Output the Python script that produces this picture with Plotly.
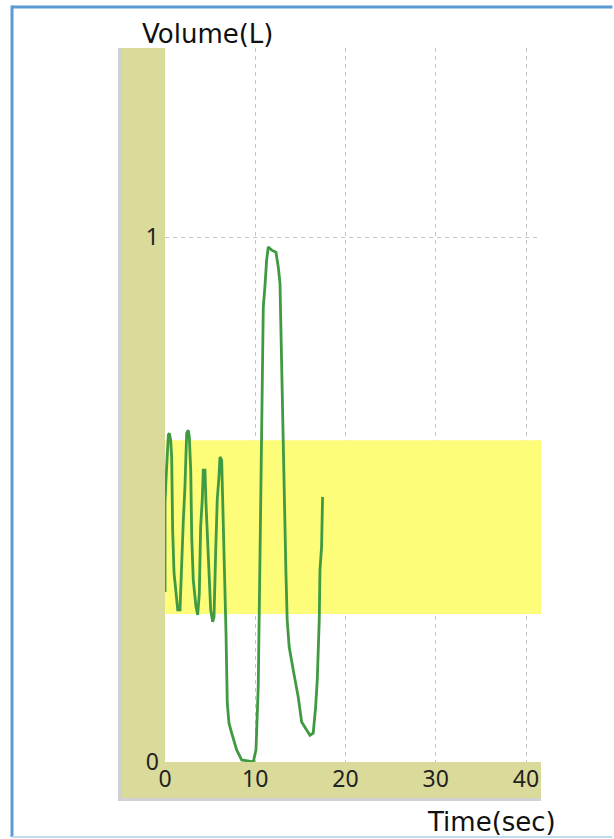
import plotly.graph_objects as go

# ---- data ----
time_sec = [0.0, 0.0, 0.11, 0.37, 0.48, 0.63, 0.74, 0.85, 1.0, 1.22, 1.41, 1.66, 1.85, 2.03,
            2.21, 2.40, 2.58, 2.69, 2.85, 2.96, 3.13, 3.43, 3.62, 3.80, 3.95, 4.13, 4.24, 4.43,
            4.54, 4.68, 4.87, 5.06, 5.28, 5.43, 5.61, 5.79, 5.98, 6.09, 6.28, 6.39, 6.53, 6.64,
            6.76, 6.90, 7.09, 7.39, 7.94, 8.49, 9.78, 10.08, 10.33, 10.52, 10.71, 10.75, 10.89,
            11.07, 11.26, 11.44, 11.82, 12.29, 12.55, 12.74, 12.92, 13.05, 13.29, 13.40, 13.54,
            13.76, 14.21, 14.76, 15.14, 15.69, 16.06, 16.42, 16.69, 16.87, 17.09, 17.17, 17.35,
            17.46]
volume_l = [0.324, 0.493, 0.537, 0.623, 0.626, 0.613, 0.58, 0.44, 0.36, 0.322, 0.29, 0.29,
            0.40, 0.46, 0.524, 0.626, 0.632, 0.62, 0.556, 0.43, 0.347, 0.296, 0.28, 0.32,
            0.448, 0.50, 0.556, 0.556, 0.493, 0.44, 0.347, 0.29, 0.267, 0.276, 0.398, 0.50,
            0.543, 0.581, 0.575, 0.505, 0.398, 0.309, 0.246, 0.112, 0.074, 0.055, 0.023, 0.004,
            0.0, 0.023, 0.143, 0.385, 0.626, 0.722, 0.867, 0.905, 0.956, 0.981, 0.975, 0.971,
            0.943, 0.912, 0.747, 0.651, 0.467, 0.36, 0.27, 0.219, 0.175, 0.124, 0.076, 0.061,
            0.051, 0.055, 0.105, 0.156, 0.27, 0.366, 0.41, 0.505]

band_low = 0.282
band_high = 0.613
x_ticks = [0, 10, 20, 30, 40]
x_tick_labels = ["0", "10", "20", "30", "40"]
y_ticks = [0, 1]
y_tick_labels = ["0", "1"]
x_range = [0, 41.66]
y_range = [0, 1.36]

KHAKI = "#dadb9b"
TICK_FONT = dict(family="Noto Sans", size=23, color="#222222")
TITLE_FONT = dict(family="DejaVu Sans", size=26, color="#111111")

fig = go.Figure()
fig.add_trace(go.Scatter(x=time_sec, y=volume_l, mode="lines",
                         line=dict(color="#3f9a42", width=2.8), showlegend=False,
                         hoverinfo="skip"))

shapes = [
    # yellow target band (over gridlines, under trace)
    dict(type="rect", xref="x", yref="y", x0=x_range[0], x1=x_range[1], y0=band_low, y1=band_high,
         fillcolor="#fdfd7a", line_width=0, layer="between"),
    # left khaki strip and its grey edge
    dict(type="rect", xref="paper", yref="paper", x0=-0.125, x1=-0.1144, y0=-0.0546, y1=1,
         fillcolor="#cfd1d3", line_width=0, layer="below"),
    dict(type="rect", xref="paper", yref="paper", x0=-0.1144, x1=0, y0=-0.0504, y1=1,
         fillcolor=KHAKI, line_width=0, layer="below"),
    # bottom khaki strip and grey edge
    dict(type="rect", xref="paper", yref="paper", x0=-0.125, x1=1, y0=-0.0546, y1=-0.0504,
         fillcolor="#cfd1d3", line_width=0, layer="below"),
    dict(type="rect", xref="paper", yref="paper", x0=-0.1144, x1=0, y0=-0.0504, y1=0,
         fillcolor=KHAKI, line_width=0, layer="below"),
    dict(type="rect", xref="paper", yref="paper", x0=0, x1=1, y0=-0.0504, y1=0,
         fillcolor=KHAKI, line_width=0, layer="below"),
    # outer blue frame (open on the right)
    dict(type="line", xref="paper", yref="paper", x0=-0.4069, x1=1.19, y0=1.0574, y1=1.0574,
         line=dict(color="#5b9bd5", width=3)),
    dict(type="line", xref="paper", yref="paper", x0=-0.4069, x1=-0.4069, y0=-0.1050, y1=1.0595,
         line=dict(color="#5b9bd5", width=3)),
    dict(type="line", xref="paper", yref="paper", x0=-0.4069, x1=1.19, y0=-0.1050, y1=-0.1050,
         line=dict(color="#c3dbf1", width=2)),
]

fig.update_layout(
    width=614, height=839,
    margin=dict(l=165, r=73, t=48, b=77, autoexpand=False),
    paper_bgcolor="white", plot_bgcolor="white",
    shapes=shapes,
    annotations=[
        dict(text="Volume(L)", xref="paper", yref="paper", x=-0.0665, y=1.0196,
             xanchor="left", yanchor="middle", showarrow=False, font=TITLE_FONT),
        dict(text="Time(sec)", xref="paper", yref="paper", x=0.6915, y=-0.084,
             xanchor="left", yanchor="middle", showarrow=False, font=TITLE_FONT),
    ],
)
fig.update_xaxes(range=x_range, tickvals=x_ticks, ticktext=x_tick_labels,
                 showgrid=True, gridcolor="#c4c4c4", griddash="4px,4px", gridwidth=1,
                 zeroline=False, showline=False, ticks="", tickfont=TICK_FONT,
                 ticklabelstandoff=1, automargin=False, fixedrange=True)
fig.update_yaxes(range=y_range, tickvals=y_ticks, ticktext=y_tick_labels,
                 showgrid=True, gridcolor="#c4c4c4", griddash="4px,4px", gridwidth=1,
                 zeroline=False, showline=False, ticks="", tickfont=TICK_FONT,
                 ticklabelstandoff=5, automargin=False, fixedrange=True)

fig.write_html("out.html", config={"displayModeBar": False},
               post_script="document.body.style.margin='0';document.body.style.overflow='hidden';")
